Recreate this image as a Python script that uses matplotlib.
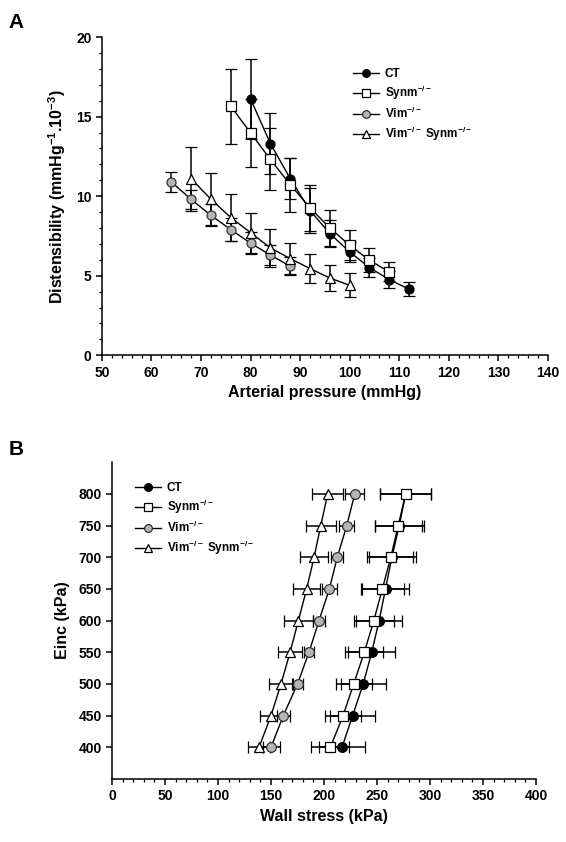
import matplotlib
matplotlib.use("Agg")
import matplotlib.pyplot as plt
from matplotlib.ticker import MultipleLocator

plt.rcParams.update({
    "font.family": ["Liberation Sans", "DejaVu Sans"],
    "font.weight": "bold",
    "axes.labelweight": "bold",
    "mathtext.fontset": "custom",
    "mathtext.rm": "Liberation Sans:bold",
    "mathtext.bf": "Liberation Sans:bold",
    "mathtext.it": "Liberation Sans:bold",
    "axes.spines.top": False,
    "axes.spines.right": False,
})

# ---- panel A: distensibility vs arterial pressure
ct_p = [80, 84, 88, 92, 96, 100, 104, 108, 112]
ct_d = [16.12, 13.31, 11.11, 9.1, 7.65, 6.5, 5.51, 4.76, 4.15]
ct_e = [2.5, 1.9, 1.3, 1.4, 0.85, 0.65, 0.6, 0.55, 0.45]

synm_p = [76, 80, 84, 88, 92, 96, 100, 104, 108]
synm_d = [15.66, 13.98, 12.31, 10.73, 9.27, 8.0, 6.92, 5.97, 5.24]
synm_e = [2.35, 2.15, 1.95, 1.7, 1.45, 1.15, 0.95, 0.75, 0.6]

vim_p = [64, 68, 72, 76, 80, 84, 88]
vim_d = [10.9, 9.8, 8.8, 7.9, 7.05, 6.3, 5.6]
vim_e = [0.65, 0.6, 0.7, 0.7, 0.7, 0.65, 0.55]

vs_p = [68, 72, 76, 80, 84, 88, 92, 96, 100]
vs_d = [11.1, 9.81, 8.66, 7.71, 6.75, 6.08, 5.45, 4.86, 4.4]
vs_e = [2.0, 1.65, 1.5, 1.25, 1.2, 1.0, 0.9, 0.8, 0.75]

# ---- panel B: Einc vs wall stress
einc = [400, 450, 500, 550, 600, 650, 700, 750, 800]
ct_ws = [217, 227, 237, 245, 252, 258, 264, 271, 277]
ct_we = [22, 21, 21, 22, 22, 22, 23, 23, 24]
synm_ws = [206, 218, 228, 238, 247, 255, 263, 270, 277]
synm_we = [18, 17, 17, 18, 19, 20, 21, 22, 24]
vim_ws = [150, 161.6, 175, 185.8, 195.3, 205, 212.5, 221.4, 229]
vim_we = [8, 6, 5, 5, 6, 7, 5.5, 7, 9]
vs_ws = [138.7, 150, 159.4, 168, 175.8, 183.6, 190.6, 196.9, 203.5]
vs_we = [10, 10, 11, 11, 13.5, 12.5, 13, 14, 14.5]

labels = ["CT", r"Synm$^{-/-}$", r"Vim$^{-/-}$", r"Vim$^{-/-}$ Synm$^{-/-}$"]
styles = [
    dict(marker="o", mfc="black", mec="black"),
    dict(marker="s", mfc="white", mec="black"),
    dict(marker="o", mfc="#b4b4b4", mec="#333333"),
    dict(marker="^", mfc="white", mec="black"),
]

fig = plt.figure(figsize=(5.66, 8.42), dpi=100)

axA = fig.add_axes([0.180, 0.578, 0.788, 0.378])
series_a = [(ct_p, ct_d, ct_e), (synm_p, synm_d, synm_e),
            (vim_p, vim_d, vim_e), (vs_p, vs_d, vs_e)]
handles = []
for (x, y, e), lab, st in zip(series_a, labels, styles):
    c = axA.errorbar(x, y, yerr=e, color="black", lw=1.0, elinewidth=1.1,
                     capsize=4, capthick=1.1, ms=6.5, mew=0.9, label=lab,
                     **st)
    handles.append(c.lines[0])
axA.set_xlim(50, 140)
axA.set_ylim(0, 20)
axA.xaxis.set_major_locator(MultipleLocator(10))
axA.xaxis.set_minor_locator(MultipleLocator(2))
axA.yaxis.set_major_locator(MultipleLocator(5))
axA.yaxis.set_minor_locator(MultipleLocator(1))
axA.set_xlabel("Arterial pressure (mmHg)", fontsize=11.5, labelpad=4)
axA.set_ylabel(r"Distensibility (mmHg$^{-1}$.10$^{-3}$)", fontsize=11.5,
               labelpad=6)
axA.legend(handles=handles, labels=labels, frameon=False, fontsize=8.5,
           loc="upper left", bbox_to_anchor=(0.55, 0.92), labelspacing=0.3,
           handlelength=2.2, handletextpad=0.5, borderpad=0, markerscale=0.85)

axB = fig.add_axes([0.198, 0.075, 0.749, 0.376])
series_b = [(ct_ws, ct_we), (synm_ws, synm_we), (vim_ws, vim_we),
            (vs_ws, vs_we)]
handles = []
for (x, e), lab, st in zip(series_b, labels, styles):
    c = axB.errorbar(x, einc, xerr=e, color="black", lw=1.0, elinewidth=1.1,
                     capsize=4, capthick=1.1, ms=7, mew=0.9, label=lab, **st)
    handles.append(c.lines[0])
axB.set_xlim(0, 400)
axB.set_ylim(350, 850)
axB.set_yticks(einc)
axB.xaxis.set_major_locator(MultipleLocator(50))
axB.xaxis.set_minor_locator(MultipleLocator(10))
axB.set_xlabel("Wall stress (kPa)", fontsize=11.5, labelpad=4)
axB.set_ylabel("Einc (kPa)", fontsize=11.5, labelpad=6)
axB.legend(handles=handles, labels=labels, frameon=False, fontsize=8.5,
           loc="upper left", bbox_to_anchor=(0.04, 0.955), labelspacing=0.3,
           handlelength=2.2, handletextpad=0.5, borderpad=0, markerscale=0.8)

for ax in (axA, axB):
    ax.tick_params(which="major", direction="out", length=4, width=1.1,
                   labelsize=10)
    ax.tick_params(which="minor", direction="out", length=2.5, width=0.9)
    for lab in ax.get_xticklabels() + ax.get_yticklabels():
        lab.set_fontweight("bold")
    for sp in ("left", "bottom"):
        ax.spines[sp].set_linewidth(1.1)

fig.text(0.015, 0.985, "A", fontsize=15, fontweight="bold", va="top")
fig.text(0.015, 0.478, "B", fontsize=15, fontweight="bold", va="top")

fig.savefig("out.png", dpi=100)
